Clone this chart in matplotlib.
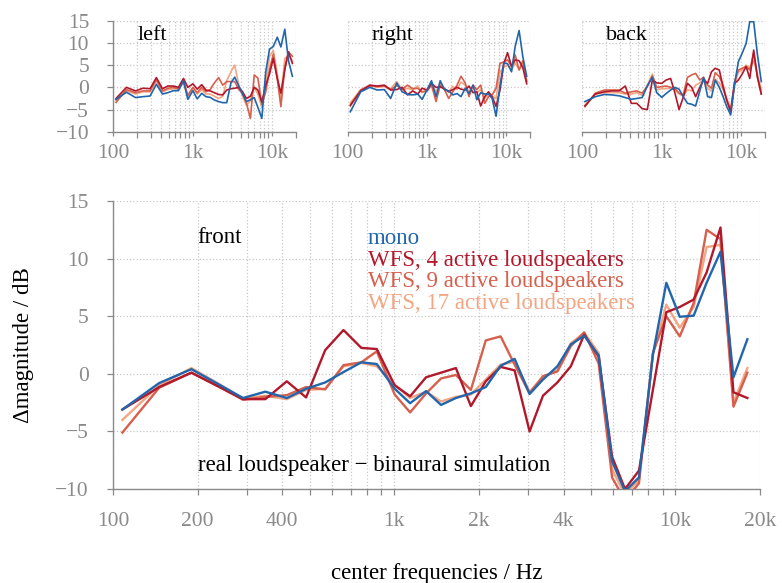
import matplotlib
matplotlib.use("Agg")
import matplotlib.pyplot as plt
from matplotlib.ticker import FixedLocator, LogLocator, NullFormatter

# --- center frequencies (Hz) of the analysis bands ---
freqs = [108, 146, 190, 235, 290, 348, 415, 486, 568, 660, 764, 867, 1004,
         1139, 1298, 1467, 1657, 1873, 2116, 2390, 2680, 3029, 3380, 3803,
         4245, 4738, 5333, 5953, 6617, 7417, 8313, 9279, 10357, 11610,
         12906, 14460, 16080, 18020]

labels = ["mono", "WFS, 4 active loudspeakers", "WFS, 9 active loudspeakers",
          "WFS, 17 active loudspeakers"]
colors = ["#2166ac", "#b2182b", "#d6604d", "#f4a582"]

# --- front (big panel) ---
front_mono = [-3.1, -0.8, 0.4, -0.85, -2.1, -1.55, -2.1, -1.3, -0.75, 0.15, 1.0, 0.85,
              -1.3, -2.55, -1.5, -2.7, -2.1, -1.7, -1.15, 0.7, 1.3, -1.75, -0.5, 0.65,
              2.55, 3.3, 1.6, -7.6, -10.2, -9.0, 1.65, 7.9, 4.95, 5.05, 7.9, 10.6, -0.3, 3.0]
front_wfs4 = [-3.1, -1.15, 0.1, -1.05, -2.2, -2.2, -0.65, -2.05, 2.05, 3.8, 2.25, 2.15,
              -1.0, -1.95, -0.3, 0.1, 0.5, -2.8, -0.65, 0.6, 0.3, -5.0, -1.9, -0.75,
              0.65, 3.4, 1.5, -7.2, -10.0, -8.4, -1.4, 5.35, 5.8, 6.45, 8.8, 12.7, -1.6, -2.1]
front_wfs9 = [-5.1, -1.2, 0.1, -1.05, -2.25, -2.0, -1.85, -1.15, -1.35, 0.75, 1.0, 1.95,
              -1.8, -3.35, -1.7, -0.4, -0.1, -1.4, 2.9, 3.25, 0.8, -1.7, -0.2, 0.2,
              2.4, 3.6, 0.9, -9.0, -11.0, -9.5, 1.8, 5.0, 3.25, 6.15, 12.5, 11.7, -2.85, 0.1]
front_wfs17 = [-4.0, -1.0, 0.5, -0.8, -2.15, -1.9, -2.2, -1.4, -1.3, 0.65, 0.95, 0.65,
               -0.95, -2.1, -1.55, -2.4, -2.0, -1.8, -0.5, 0.8, 1.05, -1.55, -0.3, 0.3,
               2.65, 3.55, 1.8, -8.3, -10.5, -9.2, 1.7, 6.0, 4.0, 5.8, 11.0, 11.2, -2.5, 0.5]

# --- left ---
left_mono = [-2.7, -1.1, -2.3, -2.1, -1.95, 0.7, -1.5, -1.2, -0.75, -0.75, 1.5, -2.7,
             -0.75, -2.6, -1.35, -2.1, -2.25, -2.85, -3.2, -3.45, -3.45, 1.0, 2.3, 0.3,
             -1.5, -3.2, -2.8, -2.3, -4.5, -7.0, 3.5, 8.6, 9.2, 11.3, 9.1, 13.1, 6.0, 2.5]
left_wfs4 = [-2.5, 0.0, -0.8, -0.2, -0.3, 2.2, -0.3, 0.3, 0.3, 0.0, 2.0, 0.0,
             0.8, -0.4, 0.6, -0.6, -0.8, -1.2, -1.6, -1.7, -0.6, -0.3, -0.2, 0.0,
             -1.0, -2.5, -2.0, 0.0, -0.6, -3.3, 0.5, 3.0, 6.5, 2.0, -1.3, 4.0, 8.0, 5.4]
left_wfs9 = [-3.4, -0.5, -1.2, -0.8, -0.8, 1.8, -0.8, -0.2, 0.0, -0.4, 1.5, -1.8,
             0.0, -1.2, 0.0, -1.0, -0.5, 1.0, 2.2, 0.5, 1.3, 1.3, 1.3, -0.5,
             -1.35, -3.5, -7.0, 2.8, 2.1, -3.9, -1.0, 4.0, 7.5, 2.0, -4.35, 4.5, 8.0, 7.0]
left_wfs17 = [-3.0, -0.8, -1.5, -1.0, -1.0, 1.5, -1.0, -0.5, -0.3, -0.3, 1.0, -2.0,
              -0.3, -1.5, -0.5, -1.5, -1.5, -2.0, -2.5, -2.0, 1.5, 3.5, 5.0, 0.5,
              -2.0, -4.0, -3.0, 0.0, -1.5, -4.5, 1.0, 7.0, 8.3, 3.0, -2.5, 6.5, 7.1, 6.0]

# --- right ---
right_mono = [-5.5, -1.0, 0.0, -0.6, -0.5, -2.5, 1.0, -1.0, -1.6, -1.7, -1.5, -2.7,
              -0.5, 1.5, -2.1, 1.5, -0.5, -0.8, -1.7, -1.4, -2.1, -0.2, -1.4, 0.5,
              -2.8, -1.2, -1.5, -1.5, -2.5, -6.5, 0.5, 5.5, 5.3, 3.5, 9.2, 12.8, 7.0, 2.5]
right_wfs4 = [-4.0, -0.8, 0.5, 0.3, 0.5, -0.6, -0.5, 0.0, -1.7, -0.8, -1.5, -0.2,
              -0.6, 0.9, 0.0, 0.1, -0.3, -1.0, -0.5, 0.0, -0.4, -0.6, 0.3, -1.2,
              -1.0, -4.2, -2.1, -1.0, -2.1, -4.3, -0.6, 5.4, 7.8, 4.7, 6.2, 6.0, 4.5, 0.8]
right_wfs9 = [-4.2, -0.6, 0.3, 0.2, 0.3, -0.5, 0.4, -0.4, 0.5, -0.3, -0.2, -1.0,
              -0.8, 0.5, -3.2, 0.5, -0.5, -2.5, -1.0, 0.5, 2.5, 1.0, -2.1, 0.5,
              -0.5, 0.5, -3.6, -2.1, -1.7, -0.2, 5.4, 5.7, 6.2, 4.7, 7.3, 3.9, 6.0, 1.3]
right_wfs17 = [-3.5, -0.5, 0.5, 0.0, 0.2, -0.3, 1.3, -0.6, -0.2, -0.5, 0.3, -1.2,
               -0.4, 0.8, -1.0, 0.8, -0.3, -1.0, 0.2, -0.5, 1.2, 0.5, -1.0, 0.3,
               -1.2, -0.5, -2.5, -1.5, -2.0, -2.5, 3.5, 4.5, 5.0, 4.0, 5.5, 4.0, 5.0, 1.5]

# --- back ---
back_mono = [-3.2, -2.1, -1.6, -1.7, -1.9, -2.3, -2.7, -2.5, -2.3, 0.3, 2.25, -1.2,
             -2.25, -1.4, -0.6, 0.0, -0.4, -2.1, -3.6, -3.8, -4.2, -0.8, 2.25, -2.1,
             -2.3, 1.65, 0.0, -2.1, -4.35, -6.2, 0.8, 5.8, 7.7, 9.9, 14.8, 14.8, 7.5, 1.3]
back_wfs4 = [-4.2, -1.5, -1.0, -0.8, -0.8, 0.3, -3.6, -3.6, -4.8, -5.0, 1.65, 1.0,
             0.9, 1.65, 2.0, -1.2, -5.0, -2.2, 0.9, 0.0, -2.1, 0.0, 1.65, 0.9,
             3.5, 4.3, 3.9, 0.0, -2.9, -5.5, 0.9, 1.65, 3.0, 4.7, 2.0, 8.4, 2.4, -1.5]
back_wfs9 = [-4.35, -1.3, -0.6, -0.6, -0.6, -1.3, -1.0, -0.8, -1.3, 0.2, 2.55, 0.0,
             0.15, 0.3, 0.0, -0.2, -1.3, -1.7, 2.25, 2.8, 3.15, 1.65, 2.25, 0.5,
             -0.2, 3.3, 2.4, 0.5, -2.9, -5.3, 1.3, 3.9, 4.3, 4.7, 3.9, 7.8, 2.4, -1.5]
back_wfs17 = [-4.0, -1.5, -1.2, -1.2, -1.2, -1.5, -1.5, -1.2, -1.8, 0.5, 3.0, -0.6,
              -0.3, -0.3, -0.2, -0.5, -1.5, -2.0, -0.5, -0.8, 0.5, 1.0, 1.65, -0.3,
              -0.8, 1.8, 1.0, -0.5, -2.5, -4.8, 0.9, 3.5, 3.9, 5.0, 4.3, 6.0, 3.0, -0.5]

plt.rcParams["font.family"] = ["Liberation Serif", "DejaVu Serif"]
GRAY = "#8a8a8a"


def style_axes(ax, xticks, xticklabels, fontsize, show_y=True):
    ax.set_xscale("log")
    ax.set_xlim(100, 20000)
    ax.set_ylim(-10, 15)
    ax.set_yticks([-10, -5, 0, 5, 10, 15])
    ax.xaxis.set_major_locator(FixedLocator(xticks))
    ax.set_xticklabels(xticklabels)
    ax.xaxis.set_minor_locator(LogLocator(base=10, subs=range(1, 10), numticks=20))
    ax.xaxis.set_minor_formatter(NullFormatter())
    for side in ("top", "right"):
        ax.spines[side].set_visible(False)
    for side in ("left", "bottom"):
        ax.spines[side].set_color(GRAY)
        ax.spines[side].set_linewidth(1.0)
    ax.tick_params(which="both", colors=GRAY, labelcolor=GRAY, labelsize=fontsize,
                   length=4.5, width=0.9)
    ax.tick_params(axis="y", pad=13)
    if not show_y:
        ax.spines["left"].set_visible(False)
        ax.tick_params(axis="y", left=False, labelleft=False)
    ax.grid(True, which="both", axis="x", color="#c8c8c8", linestyle=":", linewidth=0.9)
    ax.grid(True, which="major", axis="y", color="#c8c8c8", linestyle=":", linewidth=0.9)
    ax.set_axisbelow(True)


def draw_series(ax, series, lw):
    # lightest first so that mono ends up on top
    for vals, col, z in reversed(list(zip(series, colors, range(4)))):
        ax.plot(freqs, vals, color=col, lw=lw, zorder=10 - z)


fig = plt.figure(figsize=(7.82, 5.83), dpi=100)

# small panels
small = [("left", [left_mono, left_wfs4, left_wfs9, left_wfs17], 0.145, True),
         ("right", [right_mono, right_wfs4, right_wfs9, right_wfs17], 0.4446, False),
         ("back", [back_mono, back_wfs4, back_wfs9, back_wfs17], 0.7446, False)]
for name, series, x0, show_y in small:
    ax = fig.add_axes([x0, 0.774, 0.2335, 0.1904])
    style_axes(ax, [100, 1000, 10000], ["100", "1k", "10k"], 15.5, show_y)
    ax.tick_params(axis="x", pad=6, length=3)
    draw_series(ax, series, 1.2)
    ax.text(0.13, 0.865, name, transform=ax.transAxes, fontsize=16, va="center",
            ha="left", color="black")

# main panel
ax = fig.add_axes([0.1445, 0.1612, 0.8275, 0.494])
style_axes(ax, [100, 200, 400, 1000, 2000, 4000, 10000, 20000],
           ["100", "200", "400", "1k", "2k", "4k", "10k", "20k"], 15.5)
ax.tick_params(axis="x", pad=12)
draw_series(ax, [front_mono, front_wfs4, front_wfs9, front_wfs17], 1.7)

ax.text(0.131, 0.875, "front", transform=ax.transAxes, fontsize=16.5,
        va="center", ha="left")
for i, (lab, col) in enumerate(zip(labels, colors)):
    ax.text(0.394, 0.87 - i * 0.075, lab, transform=ax.transAxes, fontsize=16.5,
            color=col, va="center", ha="left")
ax.text(0.131, 0.08, "real loudspeaker \u2212 binaural simulation",
        transform=ax.transAxes, fontsize=16.5, va="center", ha="left")

ax.set_xlabel("center frequencies / Hz", fontsize=16.5, labelpad=23)
ax.set_ylabel("\u0394magnitude / dB", fontsize=16.5, labelpad=15)

fig.savefig("out.png", dpi=100)
